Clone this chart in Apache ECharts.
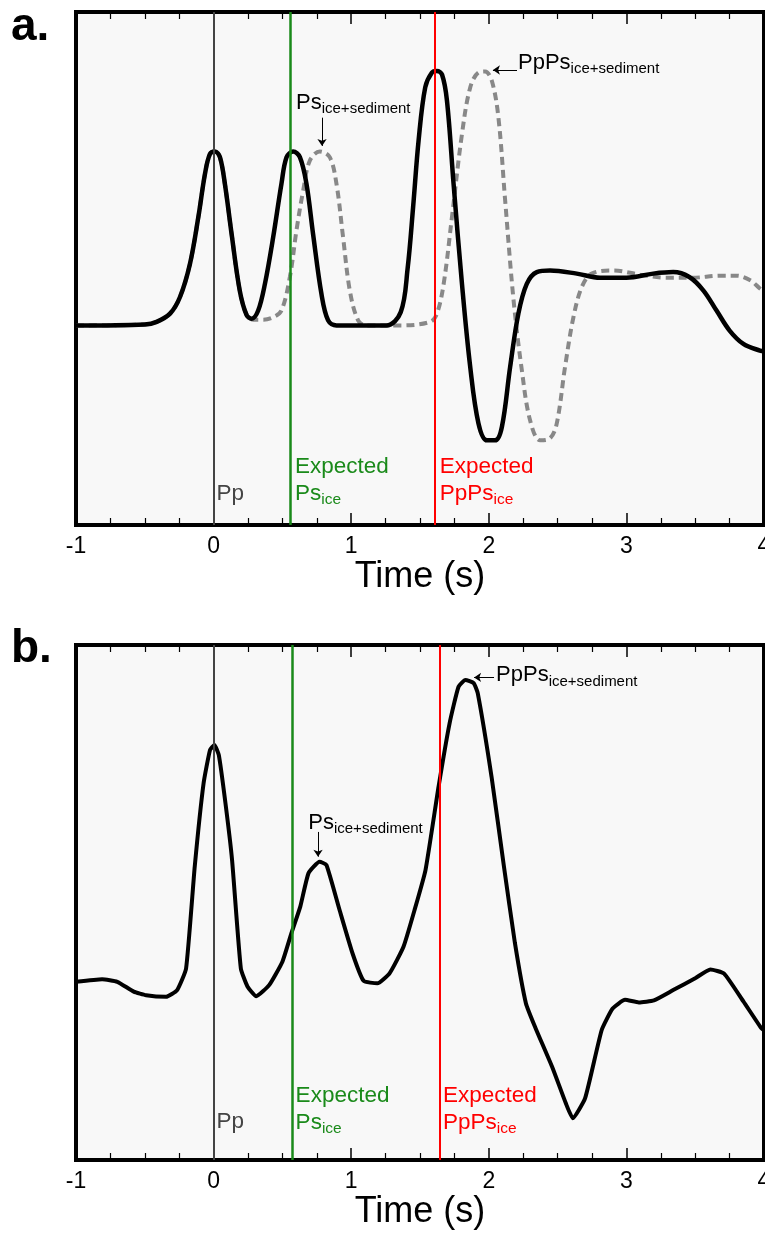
<!DOCTYPE html>
<html><head><meta charset="utf-8">
<script src="https://cdn.jsdelivr.net/npm/echarts@6/dist/echarts.min.js"></script>
<style>html,body{margin:0;padding:0;background:#fff;overflow:hidden}#c{width:765px;height:1235px}</style>
</head><body><div id="c"></div>
<script>
// ---------- data ----------
const xTickLabels = [-1, 0, 1, 2, 3, 4];

// Panel a: solid (black) trace
const timeA_solid = [-1.0,-0.5,-0.414,-0.317,-0.245,-0.172,-0.111,-0.063,-0.027,0.01,0.046,0.082,0.131,0.19,0.24,0.276,0.324,0.373,0.433,0.493,0.53,0.578,0.627,0.675,0.723,0.784,0.832,0.893,1.255,1.36,1.41,1.45,1.49,1.538,1.587,1.623,1.66,1.696,1.744,1.805,1.865,1.925,1.986,2.046,2.095,2.155,2.215,2.276,2.349,2.445,2.639,2.808,3.0,3.195,3.34,3.46,3.56,3.655,3.75,3.85,3.97,4.0];
const ampA_solid  = [38.9,39.1,39.6,41.2,44.4,50.9,60.0,68.4,72.3,72.8,71.7,66.5,56.7,45.7,40.9,40.2,41.8,47.0,56.1,66.5,71.7,72.8,71.7,66.5,56.7,45.0,39.9,38.9,38.9,41.5,50.0,62.0,75.0,85.3,88.2,88.5,87.8,82.7,66.5,47.0,30.8,19.8,16.5,16.5,19.1,30.8,41.2,47.0,49.3,49.6,49.0,48.2,48.2,49.0,49.3,48.3,45.7,41.8,37.9,35.3,34.0,33.9];

// Panel a: dashed (grey) trace
const timeA_dashed = [-1.0,-0.5,-0.414,-0.317,-0.245,-0.172,-0.111,-0.063,-0.027,0.01,0.046,0.082,0.131,0.19,0.24,0.29,0.36,0.433,0.493,0.554,0.602,0.651,0.699,0.771,0.844,0.893,0.941,0.99,1.05,1.11,1.357,1.575,1.623,1.672,1.732,1.805,1.865,1.925,1.974,2.022,2.07,2.119,2.18,2.24,2.3,2.373,2.445,2.494,2.554,2.615,2.676,2.748,2.905,3.1,3.29,3.48,3.68,3.8,3.9,3.97,4.0];
const ampA_dashed  = [38.9,39.1,39.6,41.2,44.4,50.9,60.0,68.4,72.3,72.8,71.7,66.5,56.7,45.7,41.0,40.0,40.0,40.5,41.8,48.3,57.4,65.2,71.0,72.8,71.7,66.5,56.1,45.7,39.9,38.9,38.9,39.6,41.2,47.0,60.0,76.2,85.3,88.2,88.4,86.6,79.4,63.2,43.8,30.2,20.4,16.5,16.9,19.8,30.8,40.5,46.4,49.0,49.6,48.8,48.2,48.2,48.6,48.6,47.7,46.1,45.5];

// Panel b: observed trace
const timeB = [-1.0,-0.81,-0.70,-0.58,-0.49,-0.345,-0.265,-0.20,-0.137,-0.073,-0.026,0.006,0.038,0.086,0.134,0.198,0.246,0.31,0.405,0.50,0.565,0.63,0.69,0.77,0.82,0.916,1.01,1.09,1.19,1.28,1.38,1.46,1.54,1.635,1.715,1.78,1.83,1.89,1.92,2.02,2.11,2.19,2.27,2.34,2.46,2.56,2.61,2.70,2.82,2.90,2.99,3.09,3.20,3.34,3.50,3.61,3.71,3.85,3.98,4.0];
const ampB  = [34.6,35.1,34.6,32.7,32.0,31.7,33.0,37.2,57.0,73.1,79.6,80.6,78.6,69.3,58.3,37.2,33.7,31.8,34.0,38.5,44.0,49.2,55.7,57.9,57.3,48.5,40.1,34.8,34.3,36.3,41.4,48.5,56.3,72.5,84.8,91.9,93.2,92.6,90.6,74.4,57.0,42.1,30.4,25.6,18.1,11.0,8.1,12.0,25.2,29.4,31.1,30.6,31.0,33.0,35.3,37.0,36.2,30.8,25.6,25.2];

// Reference phase times (s)
const markerNames = ['Pp', 'Expected Ps_ice', 'Expected PpPs_ice'];
const markerTimesA = [0, 0.5625, 1.614];
const markerTimesB = [0, 0.567, 1.638];

// ---------- styling ----------
const FONT = 'Liberation Sans, Arial, Helvetica, sans-serif';
const COL = { pp: '#444444', ps: '#1a8a1a', ppps: '#ff0000', dash: '#888888' };
const zip = (a, b) => a.map((x, i) => [x, b[i]]);

function rich(color) {
  return {
    n: { fontFamily: FONT, fontSize: 22.5, lineHeight: 27, color: color },
    s: { fontFamily: FONT, fontSize: 15.5, lineHeight: 15, padding: [12, 0, 0, 0], color: color }
  };
}
const richAll = Object.assign({},
  { nk: rich('#000').n, sk: rich('#000').s },
  { np: rich(COL.pp).n },
  { ng: rich(COL.ps).n, sg: rich(COL.ps).s },
  { nr: rich(COL.ppps).n, sr: rich(COL.ppps).s });
richAll.nk = Object.assign({}, richAll.nk, { fontSize: 22 });
richAll.sk = Object.assign({}, richAll.sk, { fontSize: 15 });

function xAxes(gi) {
  const common = {
    type: 'value', gridIndex: gi, min: -1, max: 4, interval: 1,
    axisLine: { show: false },
    axisTick: { show: true, inside: true, length: 12, lineStyle: { color: '#000', width: 1.5 } },
    minorTick: { show: true, splitNumber: 4, length: 7, lineStyle: { color: '#000', width: 1.2 } },
    splitLine: { show: false }, minorSplitLine: { show: false }
  };
  return [
    Object.assign({}, common, {
      position: 'bottom',
      axisLabel: { show: true, margin: 10, color: '#000', fontFamily: FONT, fontSize: 23,
        formatter: v => (xTickLabels.indexOf(v) >= 0 ? String(v) : '') },
      name: 'Time (s)', nameLocation: 'middle', nameGap: 33,
      nameTextStyle: { color: '#000', fontFamily: FONT, fontSize: 36 }
    }),
    Object.assign({}, common, { position: 'top', axisLabel: { show: false } })
  ];
}
function yAxis(gi) {
  return { type: 'value', gridIndex: gi, min: 0, max: 100, show: false };
}

function vlineSeries(xi, yi, times) {
  const cols = [COL.pp, COL.ps, COL.ppps];
  const widths = [2, 2.5, 2];
  return {
    type: 'line', xAxisIndex: xi, yAxisIndex: yi, data: [], silent: true, z: 1,
    markLine: {
      silent: true, symbol: ['none', 'none'], animation: false,
      label: { show: false },
      data: times.map((t, i) => ({ xAxis: t, lineStyle: { color: cols[i], width: widths[i], type: 'solid' } }))
    }
  };
}

const hiddenItem = { color: 'rgba(0,0,0,0)', opacity: 1 };

function markerLabelSeries(xi, yi, times, yPp, yExp) {
  const fmts = ['{np|Pp}', '{ng|Expected}\n{ng|Ps}{sg|ice}', '{nr|Expected}\n{nr|PpPs}{sr|ice}'];
  return {
    type: 'scatter', xAxisIndex: xi, yAxisIndex: yi, symbolSize: 0, silent: true, z: 5,
    itemStyle: hiddenItem,
    data: times.map((t, i) => ({
      value: [t, i === 0 ? yPp : yExp],
      label: { show: true, position: 'right', distance: i === 0 ? 3 : 4, formatter: fmts[i], rich: richAll, opacity: 1 }
    }))
  };
}

function annotationSeries(xi, yi, items) {
  // items: [labelAnchor, arrowFrom, arrowTo, text]
  return [
    {
      type: 'scatter', xAxisIndex: xi, yAxisIndex: yi, symbolSize: 0, silent: true, z: 5,
      itemStyle: hiddenItem,
      data: items.map(it => ({
        value: it[0],
        label: { show: true, position: 'right', distance: 0, formatter: it[3], rich: richAll, opacity: 1 }
      }))
    },
    {
      type: 'line', xAxisIndex: xi, yAxisIndex: yi, data: [], silent: true, z: 5,
      markLine: {
        silent: true, animation: false, symbol: ['none', 'arrow'], symbolSize: 7,
        label: { show: false },
        lineStyle: { color: '#000', width: 1, type: 'solid' },
        data: items.map(it => [{ coord: it[1] }, { coord: it[2] }])
      }
    }
  ];
}

const gridBase = { show: true, backgroundColor: '#f8f8f8', borderColor: '#000', borderWidth: 4,
  left: 76, right: 1, containLabel: false, outerBoundsMode: 'none' };

const option = {
  animation: false,
  backgroundColor: '#ffffff',
  grid: [
    Object.assign({}, gridBase, { top: 12, height: 513 }),
    Object.assign({}, gridBase, { top: 645, height: 515 })
  ],
  xAxis: [].concat(xAxes(0), xAxes(1)),
  yAxis: [yAxis(0), yAxis(1)],
  graphic: [
    { type: 'text', left: 11, top: 4, style: { text: 'a.', fontFamily: FONT, fontWeight: 'bold', fontSize: 46, fill: '#000' } },
    { type: 'text', left: 11, top: 626, style: { text: 'b.', fontFamily: FONT, fontWeight: 'bold', fontSize: 46, fill: '#000' } }
  ],
  series: [].concat(
    [vlineSeries(0, 0, markerTimesA), vlineSeries(2, 1, markerTimesB)],
    [{
      type: 'line', xAxisIndex: 0, yAxisIndex: 0, data: zip(timeA_dashed, ampA_dashed),
      smooth: 0.35, symbol: 'none', z: 3,
      lineStyle: { color: COL.dash, width: 4, type: [8, 5] }
    }, {
      type: 'line', xAxisIndex: 0, yAxisIndex: 0, data: zip(timeA_solid, ampA_solid),
      smooth: 0.35, symbol: 'none', z: 4,
      lineStyle: { color: '#000', width: 4.5 }
    }, {
      type: 'line', xAxisIndex: 2, yAxisIndex: 1, data: zip(timeB, ampB),
      smooth: 0.15, symbol: 'none', z: 4,
      lineStyle: { color: '#000', width: 4 }
    }],
    [markerLabelSeries(0, 0, markerTimesA, 6.0, 8.7), markerLabelSeries(2, 1, markerTimesB, 7.5, 9.9)],
    annotationSeries(0, 0, [
      [[0.599, 82.2], [0.788, 79.4], [0.788, 73.9], '{nk|Ps}{sk|ice+sediment}'],
      [[2.212, 90.1], [2.205, 88.7], [2.03, 88.7], '{nk|PpPs}{sk|ice+sediment}']
    ]),
    annotationSeries(2, 1, [
      [[0.688, 65.4], [0.759, 63.7], [0.759, 58.9], '{nk|Ps}{sk|ice+sediment}'],
      [[2.053, 94.1], [2.038, 93.7], [1.893, 93.7], '{nk|PpPs}{sk|ice+sediment}']
    ])
  )
};

const chart = echarts.init(document.getElementById('c'), null, { renderer: 'canvas' });
chart.setOption(option);
</script>
</body></html>
